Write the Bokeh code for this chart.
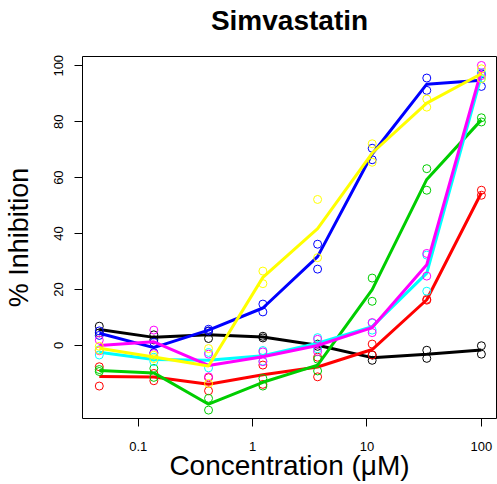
from bokeh.embed import file_html
from bokeh.models import (ColumnDataSource, CustomJSTickFormatter, FixedTicker,
                          Range1d, Title)
from bokeh.plotting import figure
from bokeh.resources import INLINE

# Three-fold dilution series (µM)
concentration = [0.0457, 0.137, 0.412, 1.23, 3.70, 11.1, 33.3, 100.0]

# Duplicate % inhibition readings for each compound, keyed by plot colour
black_r1 = [6.9, 3.8, 5.1, 3.3, 0.5, -3.4, -1.7, -0.1]
black_r2 = [4.5, 2.0, 2.5, 2.7, -0.3, -5.3, -4.6, -3.1]
red_r1 = [-7.6, -10.0, -11.5, -7.0, -4.2, 0.5, 16.5, 55.5]
red_r2 = [-14.5, -12.6, -16.2, -13.9, -11.2, -3.4, 16.2, 53.7]
green_r1 = [-8.6, -8.2, -18.9, -11.8, -4.9, 24.1, 63.2, 81.4]
green_r2 = [-9.3, -11.4, -23.1, -14.5, -9.1, 15.8, 55.5, 79.9]
blue_r1 = [5.2, 1.1, 5.8, 14.8, 36.2, 70.5, 95.6, 97.1]
blue_r2 = [3.6, -2.6, 5.2, 12.0, 27.3, 66.4, 91.2, 92.6]
cyan_r1 = [-1.5, -4.2, -2.5, -1.8, 2.8, 8.0, 32.3, 97.5]
cyan_r2 = [-3.4, -5.8, -8.0, -5.6, -1.2, 5.5, 19.4, 95.5]
magenta_r1 = [1.9, 5.5, -3.1, -2.3, 2.2, 8.2, 32.9, 100.1]
magenta_r2 = [-1.9, -2.9, -11.2, -5.8, -2.2, 4.6, 24.8, 96.5]
yellow_r1 = [-0.3, -3.5, -1.1, 26.6, 52.2, 72.1, 88.1, 98.9]
yellow_r2 = [-1.7, -4.7, -13.6, 22.1, 31.4, 65.5, 85.2, 95.4]

series = [
    ("#000000", black_r1, black_r2),
    ("#FF0000", red_r1, red_r2),
    ("#00CD00", green_r1, green_r2),
    ("#0000FF", blue_r1, blue_r2),
    ("#00FFFF", cyan_r1, cyan_r2),
    ("#FF00FF", magenta_r1, magenta_r2),
    ("#FFFF00", yellow_r1, yellow_r2),
]

x_ticks = [0.1, 1, 10, 100]
y_ticks = [0, 20, 40, 60, 80, 100]

title_text = "Simvastatin"
x_label = "Concentration (\u03bcM)"
y_label = "% Inhibition"

FONT = "Liberation Sans"

p = figure(
    width=497, height=484,
    x_axis_type="log",
    x_range=Range1d(10 ** -1.4869, 10 ** 2.132),
    y_range=Range1d(-26.1, 103.3),
    output_backend="svg", toolbar_location=None,
    min_border_left=82, min_border_right=1,
    min_border_top=56, min_border_bottom=66,
    background_fill_color="white", border_fill_color="white",
)
p.grid.visible = False
p.outline_line_color = "#000000"
p.outline_line_width = 1

# built-in title left empty; a blank spacer lifts the real title clear of the frame
p.title.text = ""
p.title.standoff = 0
p.title.text_font_size = "1px"
p.add_layout(Title(text=" ", text_font_size="1px", standoff=17), "above")
p.add_layout(Title(text=title_text, align="center", text_font=FONT,
                   text_font_size="28px", text_font_style="bold",
                   text_color="#000000", standoff=2), "above")

for ax in (p.xaxis[0], p.yaxis[0]):
    ax.axis_line_color = None
    ax.major_tick_line_color = "#000000"
    ax.major_tick_line_width = 1
    ax.major_tick_out = 8
    ax.major_tick_in = 0
    ax.minor_tick_line_color = None
    ax.major_label_text_font = FONT
    ax.major_label_text_font_size = "13px"
    ax.major_label_text_color = "#000000"
    ax.axis_label_text_font = FONT
    ax.axis_label_text_font_style = "normal"
    ax.axis_label_text_color = "#000000"

p.xaxis.ticker = FixedTicker(ticks=x_ticks)
p.xaxis.formatter = CustomJSTickFormatter(code="return String(tick);")
p.xaxis.major_label_standoff = 15
p.xaxis.axis_label = x_label
p.xaxis.axis_label_text_font_size = "28px"
p.xaxis.axis_label_standoff = -4

p.yaxis.ticker = FixedTicker(ticks=y_ticks)
p.yaxis.major_label_orientation = "vertical"
p.yaxis.major_label_standoff = 11
p.yaxis.axis_label = y_label
p.yaxis.axis_label_text_font_size = "27px"
p.yaxis.axis_label_standoff = 18

# replicate points, then the line through the replicate means
for color, r1, r2 in series:
    pts = ColumnDataSource(dict(x=concentration + concentration, y=r1 + r2))
    p.scatter("x", "y", source=pts, marker="circle", size=8,
              fill_color=None, line_color=color, line_width=1)
    mean = [(a + b) / 2 for a, b in zip(r1, r2)]
    p.line(concentration, mean, line_color=color, line_width=3)

open("out.html", "w").write(file_html(p, INLINE))
